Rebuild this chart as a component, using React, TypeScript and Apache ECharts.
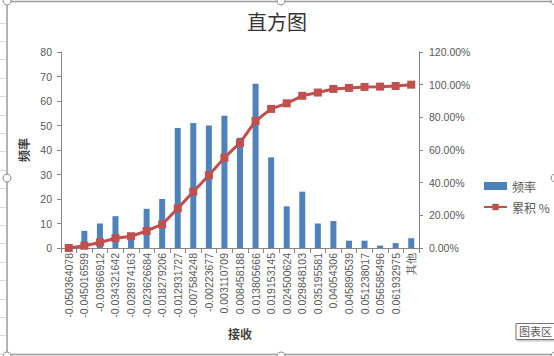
import React, { useEffect, useRef } from 'react';
import * as echarts from 'echarts';

const categories = [
  '-0.050364078', '-0.045016599', '-0.03966912', '-0.034321642', '-0.028974163',
  '-0.023626684', '-0.018279206', '-0.012931727', '-0.007584248', '-0.00223677',
  '0.003110709', '0.008458188', '0.013805666', '0.019153145', '0.024500624',
  '0.029848103', '0.035195581', '0.04054306', '0.045890539', '0.051238017',
  '0.056585496', '0.061932975', '其他',
];
const frequency = [0, 7, 10, 13, 6, 16, 20, 49, 51, 50, 54, 45, 67, 37, 17, 23, 10, 11, 3, 3, 1, 2, 4];
const cumulativePct = [
  0, 1.4, 3.41, 6.01, 7.21, 10.42, 14.43, 24.25, 34.47, 44.49, 55.31, 64.33,
  77.76, 85.17, 88.58, 93.19, 95.19, 97.39, 98.0, 98.6, 98.8, 99.2, 100.0,
];
const seriesNames = ['频率', '累积 %'];
const titleText = '直方图';
const xAxisName = '接收';
const yAxisName = '频率';
const tooltipBoxText = '图表区';

const AXIS_COLOR = '#868686';
const LABEL_COLOR = '#595959';
const NUM_FONT = 'Liberation Sans, Arial, sans-serif';
const CJK_FONT = 'Noto Sans CJK SC, sans-serif';

export default function App() {
  const ref = useRef<HTMLDivElement>(null);
  useEffect(() => {
    if (!ref.current) return;
    const chart = echarts.init(ref.current, null, { renderer: 'svg' });

    const sheetLines: any[] = [];
    for (let y = 22.5; y < 356; y += 18.4) {
      sheetLines.push({
        type: 'line',
        silent: true,
        shape: { x1: 0, y1: Math.round(y) + 0.5, x2: 6, y2: Math.round(y) + 0.5 },
        style: { stroke: '#d9d9d9', lineWidth: 1 },
      });
    }
    const handle = (x: number, y: number) => ({
      type: 'circle',
      silent: true,
      z: 100,
      shape: { cx: x, cy: y, r: 4 },
      style: { fill: '#ffffff', stroke: '#8a8a8a', lineWidth: 1 },
    });

    chart.setOption({
      animation: false,
      backgroundColor: '#ffffff',
      title: {
        text: titleText,
        left: 'center',
        top: 11,
        padding: [0, 0, 0, 8],
        textStyle: { fontFamily: CJK_FONT, fontSize: 20, fontWeight: 'normal', color: '#333333' },
      },
      legend: {
        orient: 'vertical',
        left: 478,
        top: 175,
        itemWidth: 23,
        itemHeight: 8,
        itemGap: 9,
        data: [
          { name: seriesNames[0], icon: 'rect' },
          { name: seriesNames[1] },
        ],
        textStyle: { fontFamily: CJK_FONT, fontSize: 12, color: LABEL_COLOR },
      },
      grid: {
        left: 61,
        right: 135,
        top: 52,
        bottom: 108,
        outerBoundsMode: 'none',
      },
      xAxis: {
        type: 'category',
        data: categories,
        name: xAxisName,
        nameLocation: 'middle',
        nameGap: 79,
        nameTextStyle: { fontFamily: CJK_FONT, fontSize: 12, fontWeight: 'bold', color: '#404040' },
        axisLine: { lineStyle: { color: AXIS_COLOR } },
        axisTick: { show: true, length: 5, lineStyle: { color: AXIS_COLOR } },
        axisLabel: {
          interval: 0,
          rotate: 90,
          margin: 5,
          fontFamily: NUM_FONT,
          fontSize: 10.5,
          color: LABEL_COLOR,
        },
      },
      yAxis: [
        {
          type: 'value',
          min: 0,
          max: 80,
          interval: 10,
          name: yAxisName,
          nameLocation: 'middle',
          nameGap: 27,
          nameTextStyle: { fontFamily: CJK_FONT, fontSize: 12, fontWeight: 'bold', color: '#404040' },
          axisLine: { show: true, lineStyle: { color: AXIS_COLOR } },
          axisTick: { show: true, length: 4, lineStyle: { color: AXIS_COLOR } },
          splitLine: { show: false },
          axisLabel: { margin: 9, fontFamily: NUM_FONT, fontSize: 10.5, color: LABEL_COLOR },
        },
        {
          type: 'value',
          min: 0,
          max: 120,
          interval: 20,
          position: 'right',
          axisLine: { show: true, lineStyle: { color: AXIS_COLOR } },
          axisTick: { show: true, length: 4, lineStyle: { color: AXIS_COLOR } },
          splitLine: { show: false },
          axisLabel: {
            margin: 10,
            fontFamily: NUM_FONT,
            fontSize: 10.5,
            color: LABEL_COLOR,
            formatter: (v: number) => v.toFixed(2) + '%',
          },
        },
      ],
      series: [
        {
          name: seriesNames[0],
          type: 'bar',
          data: frequency,
          barWidth: 6,
          itemStyle: { color: '#4F81BD' },
          yAxisIndex: 0,
        },
        {
          name: seriesNames[1],
          type: 'line',
          data: cumulativePct,
          yAxisIndex: 1,
          symbol: 'rect',
          symbolSize: 8,
          lineStyle: { color: '#C0504D', width: 3 },
          itemStyle: { color: '#C0504D' },
        },
      ],
      graphic: [
        ...sheetLines,
        {
          type: 'line',
          silent: true,
          z: 99,
          shape: { x1: 7, y1: 1.5, x2: 560, y2: 1.5 },
          style: { stroke: '#9b9b9b', lineWidth: 1.5 },
        },
        {
          type: 'line',
          silent: true,
          z: 99,
          shape: { x1: 7, y1: 354.5, x2: 560, y2: 354.5 },
          style: { stroke: '#9b9b9b', lineWidth: 1.5 },
        },
        {
          type: 'line',
          silent: true,
          z: 99,
          shape: { x1: 7, y1: 0, x2: 7, y2: 356 },
          style: { stroke: '#9b9b9b', lineWidth: 1.5 },
        },
        handle(7, 1),
        handle(281, 1),
        handle(555, 1),
        handle(7, 178),
        handle(555, 178),
        handle(7, 356),
        handle(281, 356),
        handle(555, 356),
        {
          type: 'group',
          z: 110,
          children: [
            {
              type: 'rect',
              silent: true,
              shape: { x: 516, y: 323.5, width: 40, height: 16 },
              style: {
                fill: '#ffffff',
                stroke: '#767676',
                lineWidth: 1,
                shadowBlur: 2,
                shadowColor: 'rgba(0,0,0,0.3)',
                shadowOffsetX: 1,
                shadowOffsetY: 1,
              },
            },
            {
              type: 'text',
              silent: true,
              x: 519,
              y: 325,
              style: { text: tooltipBoxText, fontFamily: CJK_FONT, fontSize: 11, fill: '#575757' },
            },
          ],
        },
      ],
    });
    return () => chart.dispose();
  }, []);
  return (
    <div
      ref={ref}
      style={{ position: 'fixed', left: 0, top: 0, width: 554, height: 356, background: '#fff' }}
    />
  );
}
